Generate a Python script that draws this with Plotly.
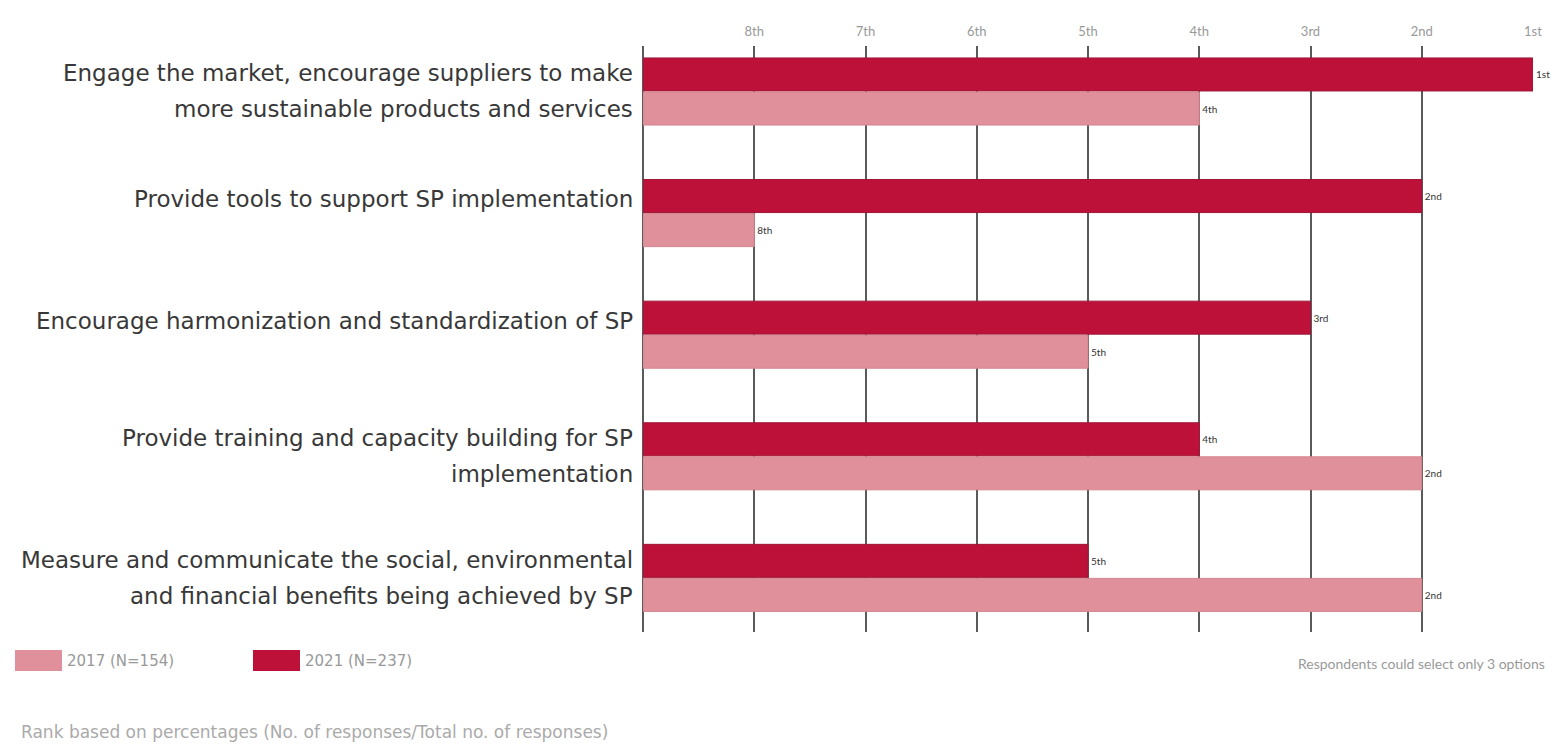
import plotly.graph_objects as go

# ---- data ----
categories = [
    "Engage the market, encourage suppliers to make<br>more sustainable products and services",
    "Provide tools to support SP implementation",
    "Encourage harmonization and standardization of SP",
    "Provide training and capacity building for SP<br>implementation",
    "Measure and communicate the social, environmental<br>and financial benefits being achieved by SP",
]
rank_2021 = [1, 2, 3, 4, 5]
rank_2017 = [4, 8, 5, 2, 2]
rank_labels = ["1st", "2nd", "3rd", "4th", "5th", "6th", "7th", "8th"]
series_names = ["2017 (N=154)", "2021 (N=237)"]
note_left = "Rank based on percentages (No. of responses/Total no. of responses)"
note_right = "Respondents could select only 3 options"

N_RANKS = 8
DARK = "#BE1139"
PINK = "#E0909A"
FONT = "Lato"
WIDE = "DejaVu Sans"

# screen geometry of the plot area (page has an 8px body margin)
PX0, PX1, PY0, PY1 = 643, 1533, 46, 632


def px(sx):
    return (sx - PX0) / (PX1 - PX0)


def py(sy):
    return (PY1 - sy) / (PY1 - PY0)


def score(r):
    return N_RANKS + 1 - r


def label(r):
    return rank_labels[r - 1]


ykeys = [c.replace("<br>", " ") for c in categories]

fig = go.Figure()
fig.add_trace(go.Bar(
    y=ykeys, x=[score(r) for r in rank_2021], orientation="h",
    name=series_names[1], marker=dict(color=DARK, line=dict(color="#9E1638", width=1)),
    text=[label(r) for r in rank_2021], textposition="outside", cliponaxis=False,
    constraintext="none", textfont=dict(size=10, color="#333", family=FONT),
))
fig.add_trace(go.Bar(
    y=ykeys, x=[score(r) for r in rank_2017], orientation="h",
    name=series_names[0], marker=dict(color=PINK, line=dict(color="#D4848E", width=1)),
    text=[label(r) for r in rank_2017], textposition="outside", cliponaxis=False,
    constraintext="none", textfont=dict(size=10, color="#333", family=FONT),
))

tickvals = list(range(0, N_RANKS + 1))
ticktext = [""] + [rank_labels[N_RANKS - v] for v in range(1, N_RANKS + 1)]

fig.update_layout(
    width=1557, height=736,
    margin=dict(l=PX0 - 8, r=1557 - (PX1 - 8), t=PY0 - 8, b=736 - (PY1 - 8)),
    paper_bgcolor="white", plot_bgcolor="white",
    barmode="group", bargap=0.44, bargroupgap=0.03,
    showlegend=False,
    font=dict(family=FONT, color="#444"),
    xaxis=dict(
        range=[0, N_RANKS], side="top", tickvals=tickvals, ticktext=ticktext,
        showgrid=True, gridcolor="#5a5a5a", gridwidth=1.5,
        zeroline=True, zerolinecolor="#5a5a5a", zerolinewidth=1.5,
        showline=False, ticks="",
        tickfont=dict(size=13, color="#999", family=FONT),
        ticklabelstandoff=6,
    ),
    yaxis=dict(
        type="category", categoryorder="array", categoryarray=ykeys,
        range=[4.445, -0.374], showticklabels=False, showgrid=False,
        zeroline=False, showline=False,
    ),
)

# category labels
ann = []
for key, cat in zip(ykeys, categories):
    lines = cat.split("<br>")
    shifts = [14] if len(lines) == 1 else [18, -18]
    for line, s in zip(lines, shifts):
        ann.append(dict(
            x=0, xref="paper", y=key, yref="y", xanchor="right", yanchor="middle",
            xshift=-8, yshift=s, text=line, showarrow=False,
            font=dict(size=23, color="#383838", family=WIDE),
        ))

# legend
shapes = []
for name, col, x0 in [(series_names[0], PINK, 15), (series_names[1], DARK, 253)]:
    shapes.append(dict(
        type="rect", xref="paper", yref="paper",
        x0=px(x0), x1=px(x0 + 47), y0=py(671), y1=py(650),
        fillcolor=col, line=dict(width=0),
    ))
    ann.append(dict(
        x=px(x0 + 50), xref="paper", y=py(661), yref="paper",
        xanchor="left", yanchor="middle", text=name, showarrow=False,
        font=dict(size=15, color="#999", family=WIDE),
    ))
ann.append(dict(
    x=px(19), xref="paper", y=py(732), yref="paper",
    xanchor="left", yanchor="middle", text=note_left, showarrow=False,
    font=dict(size=17, color="#aaa", family=WIDE),
))
ann.append(dict(
    x=px(1547), xref="paper", y=py(663), yref="paper",
    xanchor="right", yanchor="middle", text=note_right, showarrow=False,
    font=dict(size=14, color="#999", family=FONT),
))
fig.update_layout(annotations=ann, shapes=shapes)

fig.write_html("out.html")
